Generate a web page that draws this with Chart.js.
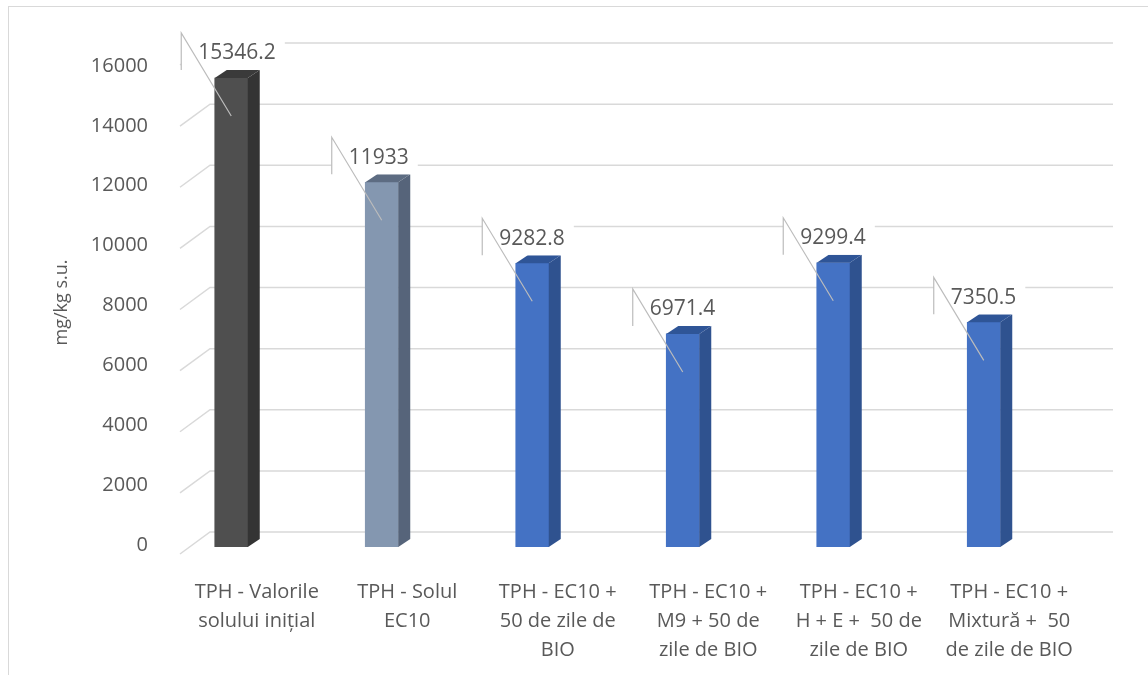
<!DOCTYPE html>
<html>
<head>
<meta charset="utf-8">
<script src="https://cdn.jsdelivr.net/npm/chart.js@4.4.1/dist/chart.umd.min.js"></script>
<style>
  html, body { margin: 0; padding: 0; background: #ffffff; }
  canvas { display: block; }
</style>
</head>
<body>
<canvas id="chart" width="1148" height="675"></canvas>
<script>
// ---- data ----
const categories = [
  ['TPH - Valorile', 'solului inițial'],
  ['TPH - Solul', 'EC10'],
  ['TPH - EC10 +', '50 de zile de', 'BIO'],
  ['TPH - EC10 +', 'M9 + 50 de', 'zile de BIO'],
  ['TPH - EC10 +', 'H + E +  50 de', 'zile de BIO'],
  ['TPH - EC10 +', 'Mixtură +  50', 'de zile de BIO']
];
const tphValues = [15346.2, 11933, 9282.8, 6971.4, 9299.4, 7350.5];
const tickValues = [0, 2000, 4000, 6000, 8000, 10000, 12000, 14000, 16000];
const axisTitle = 'mg/kg s.u.';

// ---- styling ----
const TEXT = '#595959';
const FONT = "'Open Sans', 'Noto Sans', sans-serif";
const GRID = '#d9d9d9';
const LEADER = '#bcbcbc';
const frontColors = ['#4f4f4f', '#8497b0', '#4472c4', '#4472c4', '#4472c4', '#4472c4'];
const sideColors  = ['#343434', '#56647a', '#2f528f', '#2f528f', '#2f528f', '#2f528f'];
const topColors   = ['#3a3a3a', '#5d6c82', '#2f5597', '#2f5597', '#2f5597', '#2f5597'];
const DEPTH = { dx: 12, dy: -8 };

// light frame around the whole chart
const chartFrame = {
  id: 'chartFrame',
  beforeDraw(chart) {
    const ctx = chart.ctx;
    ctx.save();
    ctx.fillStyle = '#ffffff';
    ctx.fillRect(0, 0, chart.width, chart.height);
    ctx.strokeStyle = GRID;
    ctx.lineWidth = 1;
    ctx.strokeRect(8.5, 6.5, chart.width + 20, chart.height + 20);
    ctx.restore();
  }
};

// gridlines on the back wall, with their slanted continuation on the side wall
const backWall = {
  id: 'backWall',
  beforeDatasetsDraw(chart) {
    const { ctx, chartArea: a, scales: { y } } = chart;
    const xFront = a.left + 24, xBack = a.left + 54, xEnd = a.right + 54;
    ctx.save();
    ctx.strokeStyle = GRID;
    ctx.lineWidth = 1.5;
    tickValues.forEach(v => {
      const yb = y.getPixelForValue(v) - 15;
      ctx.beginPath();
      ctx.moveTo(xFront, yb + 22);
      ctx.lineTo(xBack, yb);
      ctx.lineTo(xEnd, yb);
      ctx.stroke();
    });
    ctx.restore();
  }
};

// side and top faces that give the columns their depth
const barDepth = {
  id: 'barDepth',
  afterDatasetsDraw(chart) {
    const ctx = chart.ctx;
    const { dx, dy } = DEPTH;
    ctx.save();
    chart.getDatasetMeta(0).data.forEach((bar, i) => {
      const { x, y, base, width } = bar.getProps(['x', 'y', 'base', 'width'], true);
      const l = x - width / 2, r = x + width / 2;
      ctx.fillStyle = sideColors[i];
      ctx.beginPath();
      ctx.moveTo(r, base);
      ctx.lineTo(r + dx, base + dy);
      ctx.lineTo(r + dx, y + dy);
      ctx.lineTo(r, y);
      ctx.closePath();
      ctx.fill();
      ctx.fillStyle = topColors[i];
      ctx.beginPath();
      ctx.moveTo(l, y);
      ctx.lineTo(r, y);
      ctx.lineTo(r + dx, y + dy);
      ctx.lineTo(l + dx, y + dy);
      ctx.closePath();
      ctx.fill();
    });
    ctx.restore();
  }
};

// value callouts with leader lines
const valueLabels = {
  id: 'valueLabels',
  afterDatasetsDraw(chart) {
    const ctx = chart.ctx;
    ctx.save();
    ctx.font = '21px ' + FONT;
    ctx.textBaseline = 'middle';
    ctx.textAlign = 'left';
    chart.getDatasetMeta(0).data.forEach((bar, i) => {
      const text = String(tphValues[i]);
      const w = ctx.measureText(text).width;
      const bx = bar.x - 50, by = bar.y - 45, bh = 37;
      ctx.fillStyle = '#ffffff';
      ctx.fillRect(bx, by, w + 26, bh);
      ctx.strokeStyle = LEADER;
      ctx.lineWidth = 1.2;
      ctx.beginPath();
      ctx.moveTo(bx, by + bh);
      ctx.lineTo(bx, by);
      ctx.lineTo(bar.x, bar.y + 38);
      ctx.stroke();
      ctx.fillStyle = TEXT;
      ctx.fillText(text, bx + 17, by + 20.5);
    });
    ctx.restore();
  }
};

new Chart(document.getElementById('chart'), {
  type: 'bar',
  data: {
    labels: categories,
    datasets: [{
      data: tphValues,
      backgroundColor: frontColors,
      borderWidth: 0,
      barThickness: 33,
      yAxisID: 'y'
    }]
  },
  options: {
    responsive: false,
    animation: false,
    layout: { padding: { left: 8, right: 89, top: 58, bottom: 0 } },
    plugins: {
      legend: { display: false },
      tooltip: { enabled: false }
    },
    scales: {
      x: {
        grid: { display: false },
        border: { display: false },
        ticks: {
          color: TEXT,
          font: { family: FONT, size: 20, lineHeight: 1.45 },
          padding: 23,
          labelOffset: 25.5,
          autoSkip: false,
          maxRotation: 0,
          minRotation: 0
        },
        afterFit(scale) { scale.height = 128; }
      },
      y: {
        type: 'linear',
        display: false,
        min: 0,
        max: 16000
      },
      yTicks: {
        type: 'linear',
        axis: 'y',
        position: 'left',
        min: -66,
        max: 16265,
        grid: { display: false },
        border: { display: false },
        afterBuildTicks(scale) {
          scale.ticks = tickValues.map(v => ({ value: v }));
        },
        ticks: {
          color: TEXT,
          font: { family: FONT, size: 20 },
          padding: 0,
          callback: v => String(v)
        },
        title: {
          display: true,
          text: axisTitle,
          color: TEXT,
          font: { family: FONT, size: 18 },
          padding: { top: 43, bottom: 0 }
        },
        afterFit(scale) { scale.width = 148; }
      }
    }
  },
  plugins: [chartFrame, backWall, barDepth, valueLabels]
});
</script>
</body>
</html>
